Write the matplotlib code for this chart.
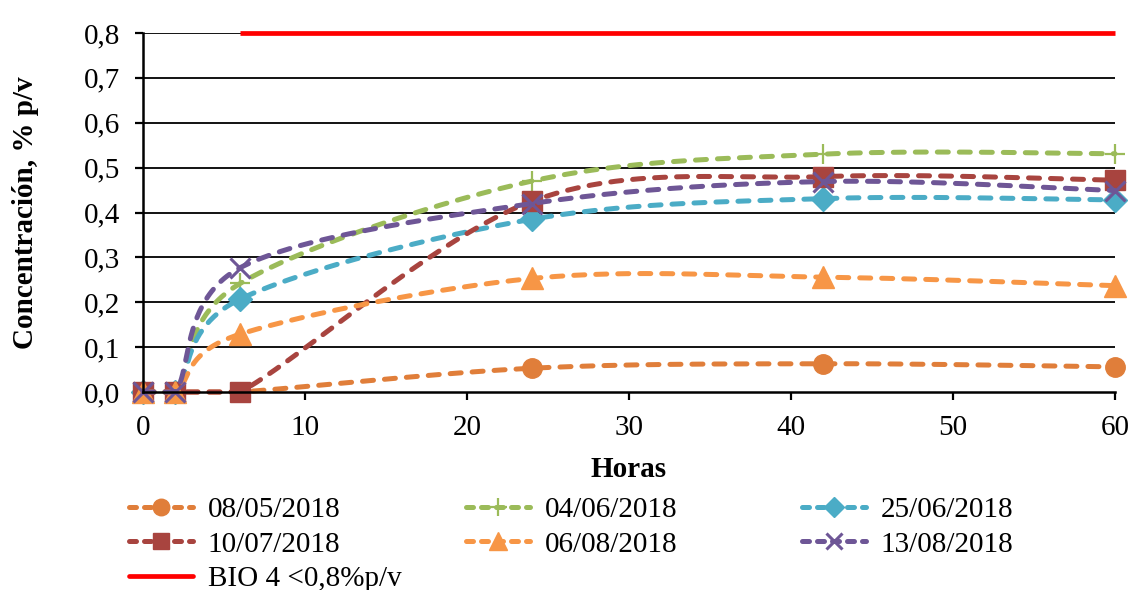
import numpy as np
import matplotlib
matplotlib.use("Agg")
import matplotlib.pyplot as plt
from matplotlib.lines import Line2D

# Sampling hours and measured concentrations (% p/v)
horas = [0, 2, 6, 24, 42, 60]
c_080518 = [0.0, 0.0, 0.0, 0.053, 0.063, 0.056]
c_040618 = [0.0, 0.0, 0.242, 0.470, 0.530, 0.531]
c_250618 = [0.0, 0.0, 0.207, 0.385, 0.431, 0.428]
c_100718 = [0.0, 0.0, 0.0, 0.425, 0.480, 0.472]
c_060818 = [0.0, 0.0, 0.129, 0.253, 0.256, 0.237]
c_130818 = [0.0, 0.0, 0.277, 0.420, 0.469, 0.449]

limite_horas = [6, 24, 42, 60]
limite_valor = [0.8, 0.8, 0.8, 0.8]

etiquetas = ["08/05/2018", "04/06/2018", "25/06/2018",
             "10/07/2018", "06/08/2018", "13/08/2018"]
etiqueta_limite = "BIO 4 <0,8%p/v"

xticks = [0, 10, 20, 30, 40, 50, 60]
yticks = [0.0, 0.1, 0.2, 0.3, 0.4, 0.5, 0.6, 0.7, 0.8]
yticklabels = ["0,0", "0,1", "0,2", "0,3", "0,4", "0,5", "0,6", "0,7", "0,8"]

series = [
    (c_080518, "#E07E3A", "o", 14, 1.0),
    (c_040618, "#9BBB59", "+", 15, 1.6),
    (c_250618, "#4BACC6", "D", 12, 1.0),
    (c_100718, "#A8443F", "s", 14, 1.0),
    (c_060818, "#F79646", "^", 16, 1.0),
    (c_130818, "#6E5696", "x", 14, 2.2),
]

FONT = "Liberation Serif"
FS = 21
plt.rcParams["font.family"] = FONT

W, H = 1131, 590
fig = plt.figure(figsize=(W / 100, H / 100), dpi=100)
ax_l, ax_r, ax_t, ax_b = 143, 1115, 33, 392
ax = fig.add_axes([ax_l / W, 1 - ax_b / H, (ax_r - ax_l) / W, (ax_b - ax_t) / H])
ax.set_xlim(0, 60)
ax.set_ylim(0, 0.8)

# scale factors so smoothing is done in (roughly) screen space
sx = (ax_r - ax_l) / 60.0
sy = (ax_b - ax_t) / 0.8


def smooth_curve(x, y, n=50):
    """Bezier smoothing through every point (spreadsheet style)."""
    P = np.column_stack([np.asarray(x, float) * sx, np.asarray(y, float) * sy])
    out = [P[0]]
    t = np.linspace(0, 1, n)[1:, None]
    for i in range(len(P) - 1):
        p0 = P[i - 1] if i > 0 else P[i]
        p1, p2 = P[i], P[i + 1]
        p3 = P[i + 2] if i + 2 < len(P) else P[i + 1]
        c1 = p1 + (p2 - p0) / 6.0
        c2 = p2 - (p3 - p1) / 6.0
        seg = ((1 - t) ** 3) * p1 + 3 * ((1 - t) ** 2) * t * c1 \
            + 3 * (1 - t) * (t ** 2) * c2 + (t ** 3) * p2
        out.extend(seg)
    out = np.array(out)
    # concentrations cannot be negative: keep the curve on or above zero
    return out[:, 0] / sx, np.maximum(out[:, 1] / sy, 0.0)


# horizontal gridlines
for yv in yticks[1:]:
    ax.axhline(yv, color="black", lw=1.3, zorder=1)

LW = 3.6
DASH = (2.2, 2.2)
handles = []
for k, (vals, col, mk, ms, mew) in enumerate(series):
    xs, ys = smooth_curve(horas, vals)
    ax.plot(xs, ys, color=col, lw=LW, dashes=DASH, dash_capstyle="round",
            zorder=3 + k, clip_on=False)
    ax.plot(horas, vals, linestyle="none", marker=mk, markersize=ms,
            color=col, markeredgecolor=col, markeredgewidth=mew,
            zorder=3.5 + k, clip_on=False)
    handles.append(Line2D([0], [0], color=col, lw=LW, dashes=(1.4, 1.6),
                          dash_capstyle="round", marker=mk,
                          markersize=ms * 0.85, markeredgewidth=mew,
                          markeredgecolor=col, label=etiquetas[k]))

ax.plot(limite_horas, limite_valor, color="#FF0000", lw=3.4,
        solid_capstyle="butt", zorder=10, clip_on=False)
h_lim = Line2D([0], [0], color="#FF0000", lw=3.4, label=etiqueta_limite,
               solid_capstyle="round")

# axes styling
for s in ("top", "right"):
    ax.spines[s].set_visible(False)
for s in ("left", "bottom"):
    ax.spines[s].set_linewidth(1.8)
    ax.spines[s].set_zorder(20)
ax.set_xticks(xticks)
ax.set_yticks(yticks)
ax.set_yticklabels(yticklabels)
ax.tick_params(axis="both", direction="out", length=6, width=1.6,
               labelsize=FS, pad=10.5)

ax.set_xlabel("Horas", fontsize=FS, fontweight="bold")
ax.xaxis.set_label_coords(0.5, -0.178)
ax.set_ylabel("Concentración, % p/v", fontsize=FS, fontweight="bold")
ax.yaxis.set_label_coords(-0.107, 0.5)

# legend in three columns below the plot
columnas = [
    ([handles[0], handles[3], h_lim], 129),
    ([handles[1], handles[4]], 466),
    ([handles[2], handles[5]], 802),
]
for hs, xpx in columnas:
    fig.legend(handles=hs, loc="upper left",
               bbox_to_anchor=(xpx / W, 1 - 496.5 / H),
               frameon=False, fontsize=FS, borderpad=0, borderaxespad=0,
               handlelength=2.2, handletextpad=0.5, labelspacing=0.28,
               numpoints=1)

fig.savefig("out.png", dpi=100)
